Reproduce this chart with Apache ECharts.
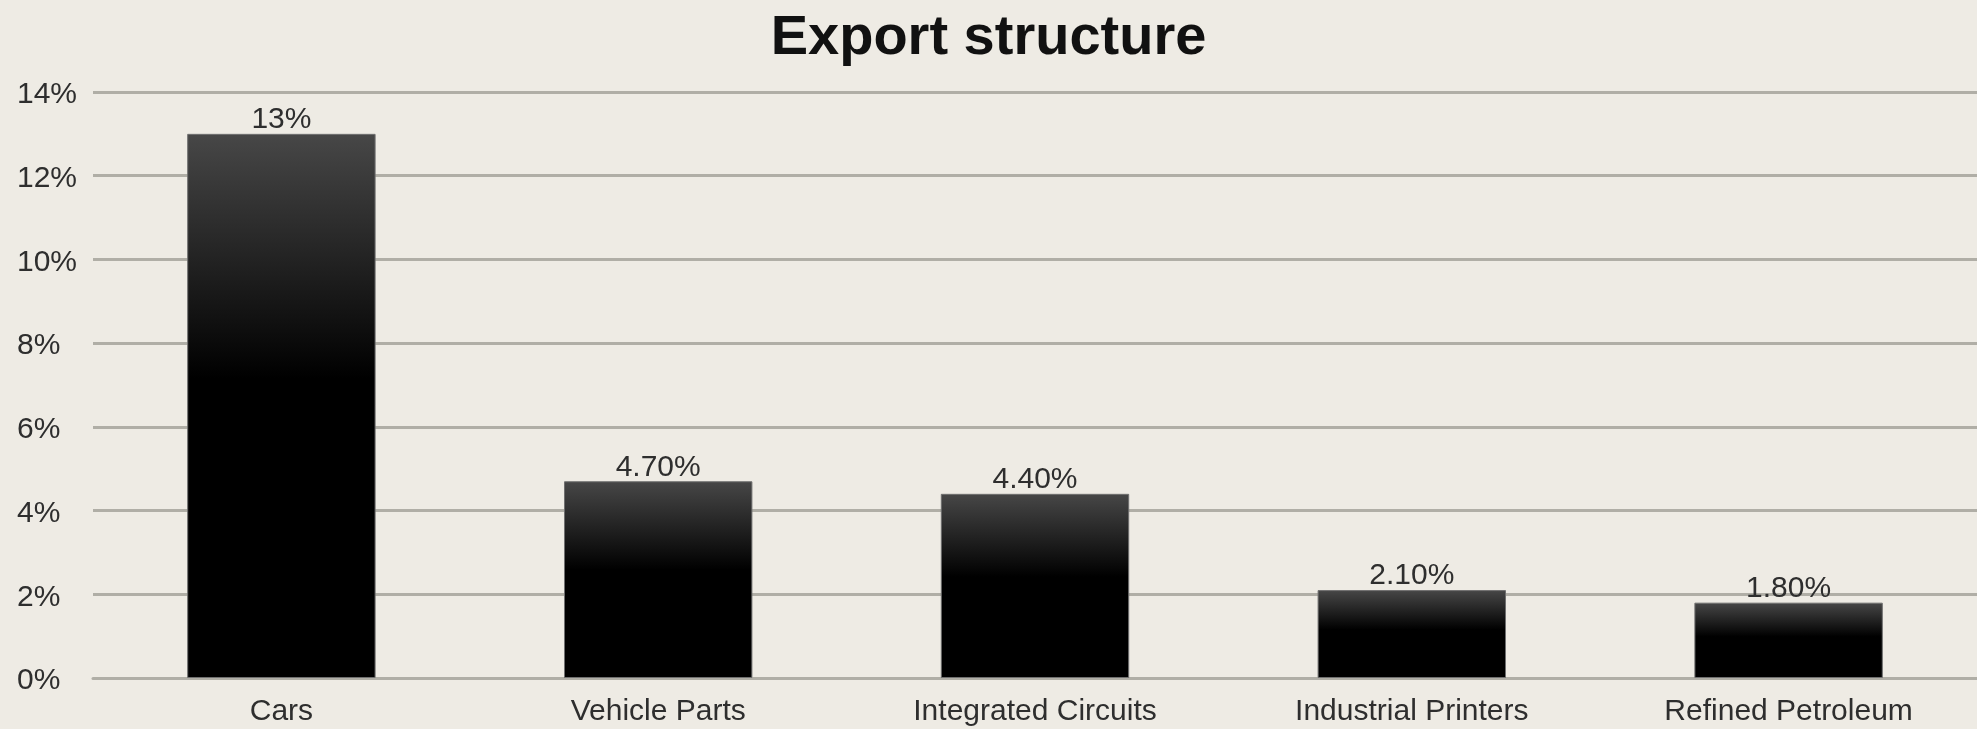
<!DOCTYPE html>
<html>
<head>
<meta charset="utf-8">
<style>
  html, body { margin: 0; padding: 0; background: #eeebe4; }
  #chart { width: 1977px; height: 729px; }
</style>
<script src="https://cdn.jsdelivr.net/npm/echarts@6/dist/echarts.min.js"></script>
</head>
<body>
<div id="chart"></div>
<script>
// Export shares by product group, in percent
const categories = ['Cars', 'Vehicle Parts', 'Integrated Circuits', 'Industrial Printers', 'Refined Petroleum'];
const shares = [13, 4.7, 4.4, 2.1, 1.8];
const yTicks = { min: 0, max: 14, interval: 2 };

const chart = echarts.init(document.getElementById('chart'), null, { renderer: 'canvas' });

const fontFamily = '"Liberation Sans", Arial, sans-serif';
const textColor = '#2e2e2e';

chart.setOption({
  backgroundColor: '#eeebe4',
  animation: false,
  title: {
    text: 'Export structure',
    left: 'center',
    top: 6,
    textStyle: { fontFamily, fontSize: 56, fontWeight: 'bold', color: '#111' }
  },
  grid: { left: 93, right: 0, top: 92, bottom: 51 },
  xAxis: {
    type: 'category',
    data: categories,
    axisLine: { show: true, lineStyle: { color: '#b0aea6', width: 3 } },
    axisTick: { show: false },
    axisLabel: { fontFamily, fontSize: 30, color: textColor, margin: 19 }
  },
  yAxis: {
    type: 'value',
    min: yTicks.min,
    max: yTicks.max,
    interval: yTicks.interval,
    axisLine: { show: false },
    axisTick: { show: false },
    axisLabel: {
      fontFamily, fontSize: 30, color: textColor,
      align: 'left', margin: 76,
      formatter: v => '{t|' + v + '%}',
      rich: {
        t: { fontFamily, fontSize: 30, color: textColor, padding: [6, 0, 0, 0] }
      }
    },
    splitLine: { lineStyle: { color: '#b0aea6', width: 3 } }
  },
  series: [{
    type: 'bar',
    data: shares,
    barWidth: '50%',
    itemStyle: {
      color: new echarts.graphic.LinearGradient(0, 0, 0, 1, [
        { offset: 0, color: '#474747' },
        { offset: 0.45, color: '#000000' },
        { offset: 1, color: '#000000' }
      ]),
      borderColor: '#6f6f6f',
      borderWidth: 1
    },
    label: {
      show: true,
      position: 'top',
      distance: -1,
      fontFamily, fontSize: 30, color: textColor,
      formatter: p => (Number.isInteger(p.value) ? p.value : p.value.toFixed(2)) + '%'
    }
  }]
});
</script>
</body>
</html>
